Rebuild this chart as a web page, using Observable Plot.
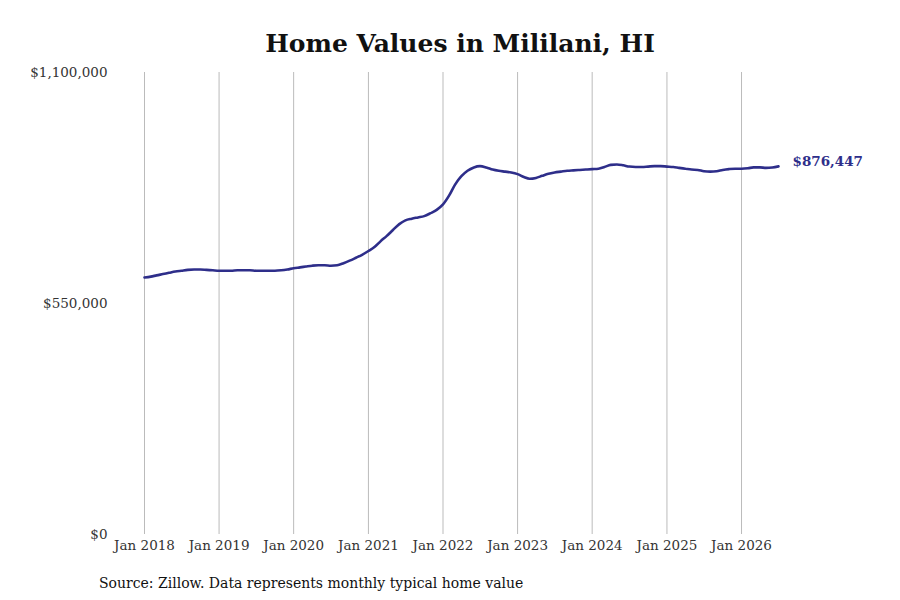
<!DOCTYPE html>
<html>
<head>
<meta charset="utf-8">
<script src="https://cdn.jsdelivr.net/npm/d3@7"></script>
<script src="https://cdn.jsdelivr.net/npm/@observablehq/plot@0.6"></script>
<style>
  body { margin: 0; background: #fff; font-family: "DejaVu Serif", serif; }
  #wrap { position: relative; width: 900px; height: 600px; }
  #title { position: absolute; left: 10px; top: 29px; width: 900px; text-align: center; font-weight: bold; font-size: 25px; color: #111; }
  #chart { position: absolute; left: 0; top: 60px; }
  #caption { position: absolute; left: 99px; top: 575px; font-size: 14px; color: #111; }
</style>
</head>
<body>
<div id="wrap">
  <div id="title">Home Values in Mililani, HI</div>
  <div id="chart"></div>
  <div id="caption">Source: Zillow. Data represents monthly typical home value</div>
</div>
<script>
const startYear = 2018;
const values2018 = [612, 614, 617, 620, 623, 626, 628, 630, 631, 631, 630, 629];
const values2019 = [628, 628, 628, 629, 629, 629, 628, 628, 628, 628, 629, 631];
const values2020 = [634, 636, 638, 640, 641, 641, 640, 641, 646, 652, 659, 666];
const values2021 = [675, 685, 698, 711, 725, 739, 748, 752, 755, 758, 765, 773];
const values2022 = [786, 808, 833, 853, 866, 874, 877, 874, 869, 866, 864, 862];
const values2023 = [858, 851, 847, 849, 854, 859, 862, 864, 866, 867, 868, 869];
const values2024 = [870, 871, 875, 880, 881, 879, 876, 875, 875, 876, 877, 877];
const values2025 = [876, 875, 873, 871, 869, 868, 865, 864, 865, 868, 870, 871];
const values2026 = [871, 872, 874, 874, 873, 874, 876.447];
const yTicks = [0, 550000, 1100000];
const xTickYears = [2018, 2019, 2020, 2021, 2022, 2023, 2024, 2025, 2026];
const lastLabel = "$876,447";

const allYears = [values2018, values2019, values2020, values2021, values2022, values2023, values2024, values2025, values2026];
const data = [];
allYears.forEach((arr, i) => arr.forEach((v, m) => data.push({date: new Date(startYear + i, m, 1), value: v * 1000})));
const last = data[data.length - 1];
const fmt = d3.format("$,");

const chart = Plot.plot({
  width: 900,
  height: 510,
  marginTop: 12,
  marginBottom: 36,
  marginLeft: 144,
  marginRight: 122,
  style: { fontFamily: "DejaVu Serif, serif", fontSize: "13.5px", color: "#333", background: "transparent", overflow: "visible" },
  x: { type: "time", domain: [data[0].date, last.date], ticks: xTickYears.map(y => new Date(y, 0, 1)), tickFormat: d3.timeFormat("Jan %Y"), tickSize: 0, tickPadding: 6, label: null },
  y: { domain: [0, 1100000], ticks: yTicks, tickFormat: fmt, tickSize: 0, tickPadding: 37, label: null },
  marks: [
    Plot.ruleX(xTickYears.map(y => new Date(y, 0, 1)), { stroke: "#bbbbbb", strokeWidth: 1 }),
    Plot.line(data, { x: "date", y: "value", stroke: "#2e2e8a", strokeWidth: 2.6, curve: "monotone-x" }),
    Plot.text([last], { x: "date", y: "value", text: () => lastLabel, textAnchor: "start", dx: 14, dy: -5, fill: "#2e2e8a", fontWeight: "bold", fontSize: 13.5, clip: false })
  ]
});
document.getElementById("chart").appendChild(chart);
</script>
</body>
</html>
